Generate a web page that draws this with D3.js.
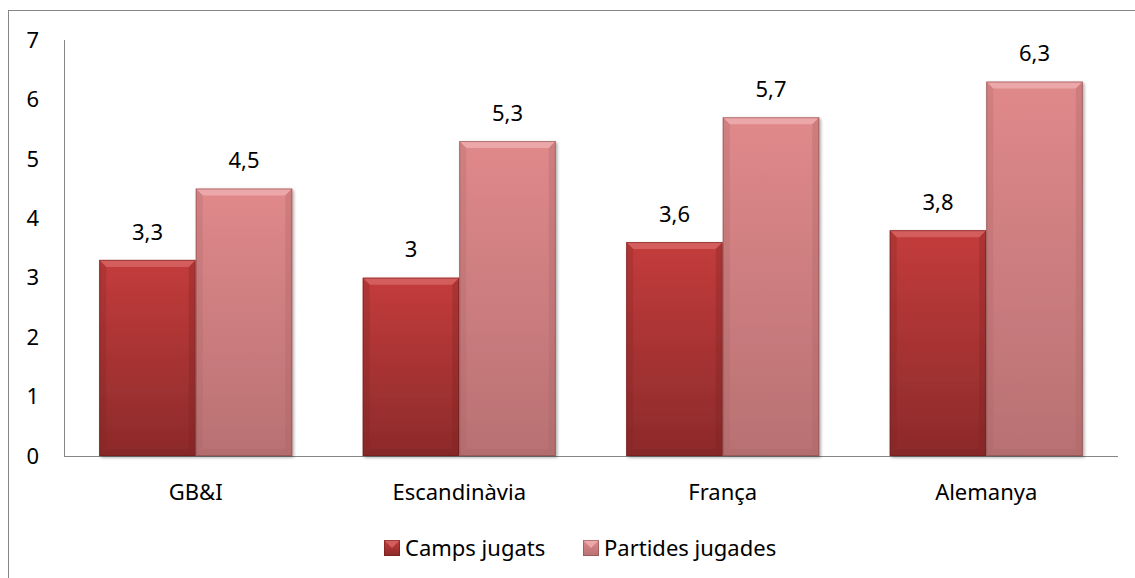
<!DOCTYPE html>
<html><head><meta charset="utf-8">
<script src="https://cdn.jsdelivr.net/npm/d3@7"></script>
<style>body{margin:0;background:#fff}svg{display:block}text{font-family:"Noto Sans",sans-serif;fill:#000}</style>
</head><body><svg id="c" width="1135" height="578"></svg>
<script>
const categories = ["GB&I","Escandinàvia","França","Alemanya"];
const seriesNames = ["Camps jugats","Partides jugades"];
const campsJugats = [3.3,3.0,3.6,3.8];
const partidesJugades = [4.5,5.3,5.7,6.3];
const yTicks = [0,1,2,3,4,5,6,7];

const svg = d3.select("#c");
const m={left:64,right:1118,top:40,bottom:456};
const FS="22px";
const defs = svg.append("defs");
const palettes = [
  {top:"#c43c3c",bot:"#8c2a2a",bevel:"#d86a68",side:"#7a2222",edge:"#6a1a1a"},
  {top:"#e0898b",bot:"#b87172",bevel:"#f0b2b2",side:"#a86465",edge:"#7d4546"}
];
palettes.forEach((p,i)=>{
  const g=defs.append("linearGradient").attr("id","g"+i).attr("x1",0).attr("y1",0).attr("x2",0).attr("y2",1);
  g.append("stop").attr("offset","0%").attr("stop-color",p.top);
  g.append("stop").attr("offset","100%").attr("stop-color",p.bot);
});
const f=defs.append("filter").attr("id","sh").attr("x","-10%").attr("y","-10%").attr("width","130%").attr("height","130%");
f.append("feDropShadow").attr("dx",1.5).attr("dy",1.5).attr("stdDeviation",1.5).attr("flood-color","#000").attr("flood-opacity",0.35);

svg.append("rect").attr("x",8.5).attr("y",10.5).attr("width",1140).attr("height",600).attr("fill","none").attr("stroke","#868686").attr("stroke-width",1);

const x0=d3.scaleBand().domain(categories).range([m.left,m.right]).paddingInner(0).paddingOuter(0);
const inner=0.73;
const y=d3.scaleLinear().domain([0,7]).range([m.bottom,m.top]);

svg.append("line").attr("x1",m.left+0.5).attr("x2",m.left+0.5).attr("y1",m.top).attr("y2",m.bottom).attr("stroke","#868686");
svg.append("line").attr("x1",m.left).attr("x2",m.right).attr("y1",m.bottom+0.5).attr("y2",m.bottom+0.5).attr("stroke","#868686");
svg.selectAll(".yt").data(yTicks).enter().append("text").attr("x",39).attr("y",d=>y(d)).attr("dy","0.35em").attr("text-anchor","end").style("font-size",FS).text(d=>d);

const bw = x0.bandwidth()/(2+inner);
const data=[campsJugats,partidesJugades];
const bars=[];
categories.forEach((c,ci)=>{
  data.forEach((s,si)=>{
    const bx=x0(c)+bw*inner/2+si*bw;
    bars.push({c,si,v:s[ci],x:bx,w:bw});
  });
});
const bg=svg.append("g");
bars.forEach(b=>{
  const p=palettes[b.si];
  const yt=y(b.v), yb=y(0), h=yb-yt, bv=7;
  const g=bg.append("g");
  g.append("rect").attr("x",b.x).attr("y",yt).attr("width",b.w).attr("height",h).attr("fill",`url(#g${b.si})`).attr("filter","url(#sh)");
  g.append("polygon").attr("points",[[b.x,yt],[b.x+b.w,yt],[b.x+b.w-bv,yt+bv],[b.x+bv,yt+bv]].map(q=>q.join(",")).join(" ")).attr("fill",p.bevel).attr("opacity",0.75);
  g.append("polygon").attr("points",[[b.x,yt],[b.x+bv,yt+bv],[b.x+bv,yb-bv],[b.x,yb]].map(q=>q.join(",")).join(" ")).attr("fill",p.side).attr("opacity",0.25);
  g.append("polygon").attr("points",[[b.x+b.w,yt],[b.x+b.w-bv,yt+bv],[b.x+b.w-bv,yb-bv],[b.x+b.w,yb]].map(q=>q.join(",")).join(" ")).attr("fill",p.side).attr("opacity",0.3);
  g.append("polygon").attr("points",[[b.x,yb],[b.x+bv,yb-bv],[b.x+b.w-bv,yb-bv],[b.x+b.w,yb]].map(q=>q.join(",")).join(" ")).attr("fill",p.side).attr("opacity",0.3);
  g.append("rect").attr("x",b.x+0.5).attr("y",yt+0.5).attr("width",b.w-1).attr("height",h-1).attr("fill","none").attr("stroke",p.edge).attr("stroke-opacity",0.5);
  svg.append("text").attr("x",b.x+b.w/2).attr("y",yt-28).attr("dy","0.35em").attr("text-anchor","middle").style("font-size",FS).text(String(b.v).replace(".",","));
});

svg.selectAll(".xl").data(categories).enter().append("text").attr("x",d=>x0(d)+x0.bandwidth()/2).attr("y",492).attr("dy","0.35em").attr("text-anchor","middle").style("font-size",FS).text(d=>d);

const lx=[384,583];
seriesNames.forEach((n,i)=>{
  const p=palettes[i];
  const g=svg.append("g");
  const sx=lx[i], sy=540, s=16;
  g.append("rect").attr("x",sx).attr("y",sy).attr("width",s).attr("height",s).attr("fill",`url(#g${i})`);
  g.append("polygon").attr("points",[[sx,sy],[sx+s,sy],[sx+s/2,sy+s/2]].map(q=>q.join(",")).join(" ")).attr("fill",p.bevel).attr("opacity",0.8);
  g.append("rect").attr("x",sx+0.5).attr("y",sy+0.5).attr("width",s-1).attr("height",s-1).attr("fill","none").attr("stroke",p.edge).attr("stroke-opacity",0.5);
  g.append("text").attr("x",sx+s+5).attr("y",sy+s/2).attr("dy","0.35em").style("font-size",FS).text(n);
});
</script></body></html>
